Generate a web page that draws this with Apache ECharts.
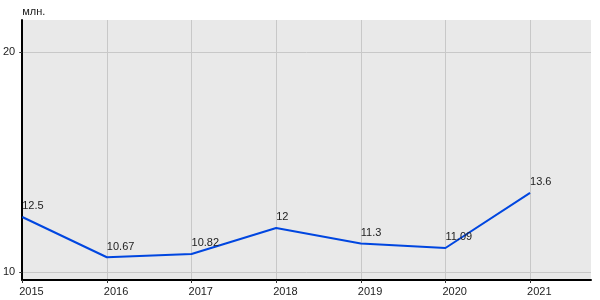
<!DOCTYPE html>
<html><head><meta charset="utf-8">
<script src="https://cdn.jsdelivr.net/npm/echarts@6/dist/echarts.min.js"></script>
<style>html,body{margin:0;padding:0;background:#fff}#c{width:600px;height:300px}</style>
</head><body><div id="c"></div>
<script>
const years = [2015, 2016, 2017, 2018, 2019, 2020, 2021];
const values = [12.5, 10.67, 10.82, 12, 11.3, 11.09, 13.6];
const yTicks = [10, 20];
const unitName = 'млн.';

const chart = echarts.init(document.getElementById('c'), null, {renderer: 'canvas'});
const font = 'Liberation Sans, Arial, sans-serif';
chart.setOption({
  animation: false,
  textStyle: {fontFamily: font},
  grid: {left: 20, right: 9, top: 20, bottom: 20, show: true, backgroundColor: '#e9e9e9', borderWidth: 0},
  xAxis: {
    type: 'value', min: years[0], max: 2021.72,
    axisLine: {show: true, onZero: false, lineStyle: {color: '#000', width: 2}},
    axisTick: {show: true, length: 3, lineStyle: {color: '#333'}, customValues: years},
    axisLabel: {customValues: years, color: '#222', fontSize: 11, fontFamily: font, align: 'left', margin: 6, padding: [0,0,0,-3], formatter: v => String(Math.round(v))},
    splitLine: {show: true, lineStyle: {color: '#c8c8c8', width: 1}}
  },
  yAxis: {
    type: 'value', min: 9.636, max: 21.455,
    name: unitName, nameLocation: 'end', nameGap: 3,
    nameTextStyle: {color: '#222', fontSize: 11, fontFamily: font, align: 'left'},
    axisLine: {show: true, lineStyle: {color: '#000', width: 2}},
    axisTick: {show: true, length: 3, lineStyle: {color: '#333'}, customValues: yTicks},
    axisLabel: {customValues: yTicks, color: '#222', fontSize: 11, fontFamily: font, margin: 7, padding: [0,0,3,0]},
    splitLine: {show: true, lineStyle: {color: '#c8c8c8', width: 1}}
  },
  series: [{
    type: 'line',
    data: years.map((y, i) => [y, values[i]]),
    showSymbol: true,
    symbol: 'circle',
    symbolSize: 0.1,
    itemStyle: {color: '#0046e0'},
    lineStyle: {color: '#0046e0', width: 2},
    label: {show: true, position: 'top', align: 'left', distance: 5, color: '#222', fontSize: 11, fontFamily: font,
      formatter: p => String(p.value[1])}
  }]
});
</script></body></html>
